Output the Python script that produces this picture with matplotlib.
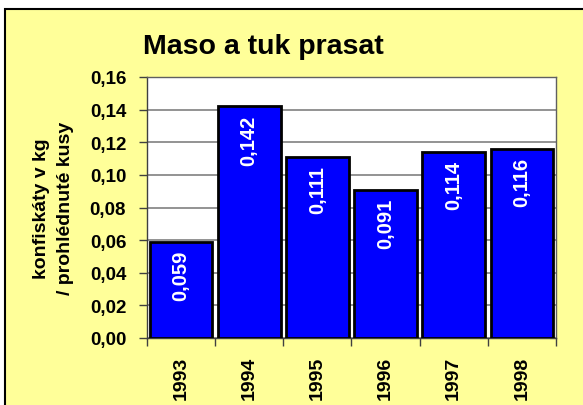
import matplotlib
matplotlib.use("Agg")
import matplotlib.pyplot as plt
from matplotlib.patches import Rectangle

plt.rcParams['font.family'] = ['Liberation Sans', 'DejaVu Sans']
plt.rcParams['font.weight'] = 'bold'

years = ['1993', '1994', '1995', '1996', '1997', '1998']
values = [0.059, 0.142, 0.111, 0.091, 0.114, 0.116]
value_labels = ['0,059', '0,142', '0,111', '0,091', '0,114', '0,116']
y_ticks = [0.00, 0.02, 0.04, 0.06, 0.08, 0.10, 0.12, 0.14, 0.16]
y_tick_labels = ['0,00', '0,02', '0,04', '0,06', '0,08', '0,10', '0,12', '0,14', '0,16']

W, H = 583, 406
fig = plt.figure(figsize=(W / 100, H / 100), dpi=100)
fig.patch.set_facecolor('white')

# yellow chart area with a dark border running off the right and bottom edges
fig.patches.append(Rectangle((5 / W, -0.05), 1.1, 1 - 10 / H + 0.05,
                             transform=fig.transFigure, facecolor='#FFFF99',
                             edgecolor='black', linewidth=1.5, zorder=-10))

left, right, top, bottom = 147, 556, 78, 339
ax = fig.add_axes([left / W, 1 - bottom / H, (right - left) / W, (bottom - top) / H])
ax.set_facecolor('white')

x = range(len(years))
bars = ax.bar(x, values, width=0.92, color='#0000FF', edgecolor='black',
              linewidth=2, zorder=3)
ax.set_xlim(-0.5, len(years) - 0.5)
ax.set_ylim(0, 0.16)

for xi, v, lab in zip(x, values, value_labels):
    ax.text(xi, v - 0.005, lab, rotation=90, ha='center', va='top',
            color='white', fontsize=14.5, fontweight='bold', zorder=4)

ax.set_yticks(y_ticks)
ax.set_yticklabels(y_tick_labels, fontsize=13.5, fontweight='bold')
ax.yaxis.grid(True, color='#808080', linewidth=1.2, zorder=0)
ax.set_axisbelow(True)

ax.set_xticks(x)
ax.set_xticklabels(years, rotation=90, fontsize=14, fontweight='bold')
ax.tick_params(axis='x', length=0, pad=13)
ax.set_xticks([i - 0.5 for i in range(len(years) + 1)], minor=True)
ax.tick_params(axis='x', which='minor', length=6, width=1, color='#404040')
ax.tick_params(axis='y', length=6, width=1, color='#404040', pad=9)

for s in ['left', 'bottom']:
    ax.spines[s].set_color('#404040')
    ax.spines[s].set_linewidth(1)
for s in ['top', 'right']:
    ax.spines[s].set_color('#606060')
    ax.spines[s].set_linewidth(1)

ax.set_ylabel('konfiskáty v kg\n/ prohlédnuté kusy', fontsize=14,
              fontweight='bold', linespacing=1.55)
ax.yaxis.set_label_coords((74 - left) / (right - left), 0.5)

fig.text(263 / W, 1 - 47 / H, 'Maso a tuk prasat', ha='center', va='center',
         fontsize=20.5, fontweight='bold')

fig.savefig('out.png', dpi=100)
